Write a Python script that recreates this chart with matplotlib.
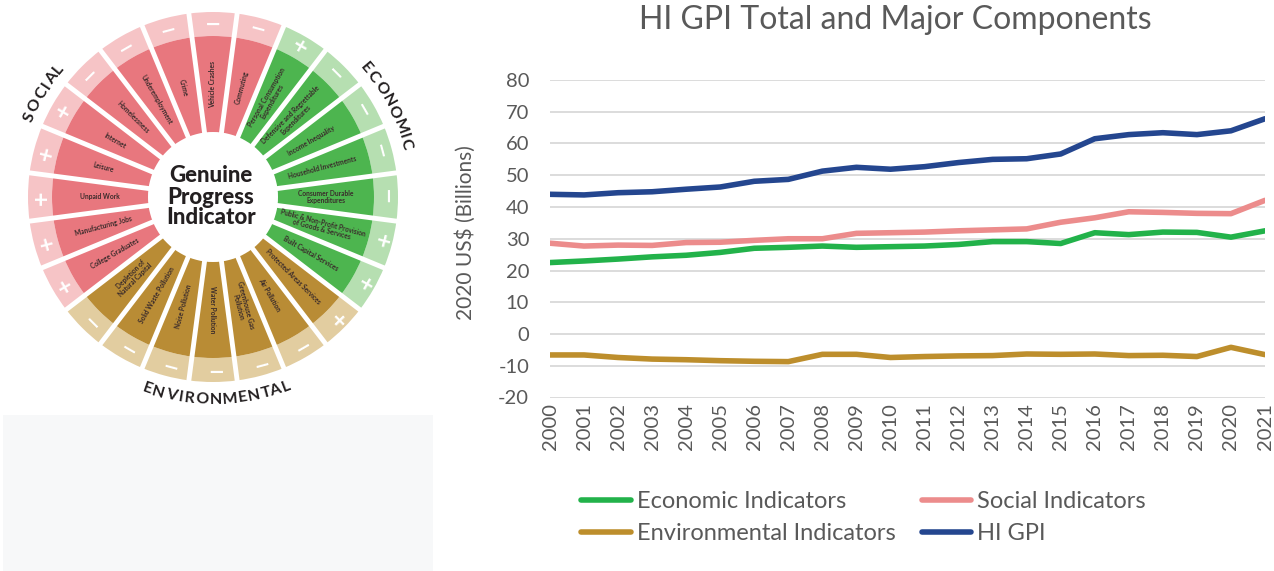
import numpy as np
import matplotlib
matplotlib.use("Agg")
import matplotlib.pyplot as plt
from matplotlib.patches import Wedge, Rectangle
from matplotlib.textpath import TextPath
from matplotlib.font_manager import FontProperties

plt.rcParams["axes.unicode_minus"] = False

# ---- line chart data (2020 US$ billions) ----
years = list(range(2000, 2022))
economic = [22.5, 23.0, 23.6, 24.3, 24.8, 25.7, 27.0, 27.3, 27.7, 27.3, 27.5,
            27.7, 28.2, 29.1, 29.1, 28.5, 31.9, 31.3, 32.1, 32.0, 30.5, 32.5]
social = [28.6, 27.7, 28.0, 27.9, 28.8, 28.9, 29.5, 30.0, 30.0, 31.7, 31.9,
          32.1, 32.5, 32.8, 33.1, 35.2, 36.6, 38.5, 38.3, 38.0, 37.9, 42.1]
environmental = [-6.6, -6.6, -7.4, -7.9, -8.1, -8.4, -8.6, -8.7, -6.4, -6.4, -7.4,
                 -7.1, -6.9, -6.8, -6.3, -6.4, -6.3, -6.8, -6.7, -7.1, -4.2, -6.5]
hi_gpi = [44.0, 43.8, 44.5, 44.8, 45.6, 46.3, 48.1, 48.7, 51.3, 52.5, 51.9,
          52.7, 54.0, 55.0, 55.2, 56.7, 61.5, 62.8, 63.4, 62.8, 64.0, 67.8]
series_names = ["Economic Indicators", "Social Indicators",
                "Environmental Indicators", "HI GPI"]
y_ticks = [-20, -10, 0, 10, 20, 30, 40, 50, 60, 70, 80]

# ---- wheel data: segments counter-clockwise starting at 3 o'clock ----
wheel_labels = ["Consumer Durable\nExpenditures", "Household Investments",
                "Income Inequality", "Defensive and Regrettable\nExpenditures",
                "Personal Consumption\nExpenditures", "Commuting", "Vehicle Crashes",
                "Crime", "Underemployment", "Homelessness", "Internet", "Leisure",
                "Unpaid Work", "Manufacturing Jobs", "College Graduates",
                "Depletion of\nNatural Capital", "Solid Waste Pollution",
                "Noise Pollution", "Water Pollution", "Greenhouse Gas\nPollution",
                "Air Pollution", "Protected Areas Services", "Built Capital Services",
                "Public & Non-Profit Provision\nof Goods & Services"]
wheel_groups = ["eco"] * 5 + ["soc"] * 10 + ["env"] * 7 + ["eco"] * 2
wheel_signs = ["-", "-", "-", "-", "+", "-", "-", "-", "-", "-", "+", "+",
               "+", "+", "+", "-", "-", "-", "-", "-", "-", "+", "+", "+"]
group_titles = ["SOCIAL", "ECONOMIC", "ENVIRONMENTAL"]

group_dark = {"soc": "#e8777e", "eco": "#4db54f", "env": "#b98c35"}
group_light = {"soc": "#f6c4c6", "eco": "#b6dfb1", "env": "#e2cda0"}

fig = plt.figure(figsize=(12.74, 5.71), dpi=100)

# ---------------- wheel ----------------
axw = fig.add_axes([0, 0, 440 / 1274, 1])
axw.set_xlim(0, 440)
axw.set_ylim(0, 571)
axw.axis("off")

# faint faded photo in the lower left
axw.add_patch(Rectangle((3, 0), 430, 156, color="#f7f8f9", lw=0, zorder=0))

cx, cy = 213, 571 - 197
r_in, r_mid, r_out = 65, 161, 185
step = 360 / len(wheel_labels)

for i, (lab, grp, sgn) in enumerate(zip(wheel_labels, wheel_groups, wheel_signs)):
    a = i * step
    axw.add_patch(Wedge((cx, cy), r_out, a - step / 2, a + step / 2,
                        width=r_out - r_mid, facecolor=group_light[grp], lw=0))
    axw.add_patch(Wedge((cx, cy), r_mid, a - step / 2, a + step / 2,
                        width=r_mid - r_in, facecolor=group_dark[grp], lw=0))
    t = np.radians(a)
    an = (a + 180) % 360 - 180
    rot = an if -90 <= an <= 90 else an - 180
    axw.text(cx + 113 * np.cos(t), cy + 113 * np.sin(t), lab, fontsize=4.8,
             family="Lato", weight="bold", color="#3a2b2b", ha="center",
             va="center", rotation=rot, rotation_mode="anchor", linespacing=1.0)
    axw.text(cx + 173 * np.cos(t), cy + 173 * np.sin(t),
             "+" if sgn == "+" else "\u2212", fontsize=14, weight="bold",
             color="white", ha="center", va="center", rotation=a - 90,
             rotation_mode="anchor")

for k in range(len(wheel_labels)):
    t = np.radians(k * step + step / 2)
    axw.plot([cx + 60 * np.cos(t), cx + 190 * np.cos(t)],
             [cy + 60 * np.sin(t), cy + 190 * np.sin(t)], color="white", lw=3.5,
             solid_capstyle="butt")

axw.text(cx - 2, cy, "Genuine\nProgress\nIndicator", fontsize=16, family="Lato",
         weight="black", color="#231f20", ha="center", va="center", linespacing=1.0)

# pairs of letters that sit tighter on the arc
kern = {"TA": -3.5, "AL": -1.0, "IA": -0.5}


def arc_text(word, r, a_center, top, fs=11.5, track=3.0):
    fp = FontProperties(family="Lato", weight="bold", size=fs)
    size_px = fs * 100 / 72
    widths = [TextPath((0, 0), ch, size=size_px, prop=fp).get_extents().width
              for ch in word]
    gaps = [track + kern.get(word[j:j + 2], 0) for j in range(len(word) - 1)]
    total = sum(widths) + sum(gaps)
    s = -total / 2
    for j, (ch, w) in enumerate(zip(word, widths)):
        d = np.degrees((s + w / 2) / r)
        a = a_center - d if top else a_center + d
        t = np.radians(a)
        rot = a - 90 if top else a + 90
        axw.text(cx + r * np.cos(t), cy + r * np.sin(t), ch, fontproperties=fp,
                 color="#231f20", ha="center", va="center", rotation=rot,
                 rotation_mode="anchor")
        s += w + (gaps[j] if j < len(gaps) else 0)


arc_text(group_titles[0], 200, 148.5, True)
arc_text(group_titles[1], 200, 27.5, True)
arc_text(group_titles[2], 203, -89, False)

# ---------------- line chart ----------------
ax = fig.add_axes([550 / 1274, 1 - 397.5 / 571, 715 / 1274, 317.5 / 571])
colors = ["#22b24a", "#ec8c8c", "#bd8e2c", "#24468f"]
handles = []
for vals, name, col in zip([economic, social, environmental, hi_gpi], series_names, colors):
    h, = ax.plot(years, vals, color=col, lw=4, label=name,
                 solid_joinstyle="round", solid_capstyle="round")
    handles.append(h)

ax.set_xlim(2000, 2021)
ax.set_ylim(-20, 80)
ax.set_yticks(y_ticks)
ax.set_xticks(years)
ax.set_xticklabels([str(y) for y in years], rotation=90)
ax.grid(axis="y", color="#d9d9d9", lw=1.3)
ax.set_axisbelow(True)
for s in ax.spines.values():
    s.set_visible(False)
ax.tick_params(axis="both", length=0, colors="#595959")
ax.tick_params(axis="y", labelsize=14.5, pad=15)
ax.tick_params(axis="x", labelsize=14.5, pad=4)
for lab in ax.get_xticklabels() + ax.get_yticklabels():
    lab.set_family("Lato")
ax.set_ylabel("2020 US$ (Billions)", fontsize=15, family="Lato", color="#595959")
ax.yaxis.set_label_coords(-0.103, 0.52)

fig.text(895 / 1274, 1 - 20 / 571, "HI GPI Total and Major Components", fontsize=23,
         family="Lato", color="#595959", ha="center", va="center")

leg = ax.legend([handles[0], handles[2], handles[1], handles[3]],
                [series_names[0], series_names[2], series_names[1], series_names[3]],
                ncol=2, loc="upper left", frameon=False, borderaxespad=0,
                bbox_to_anchor=(572 / 1274, 1 - 482 / 571),
                bbox_transform=fig.transFigure, prop={"family": "Lato", "size": 17},
                handlelength=2.1, handletextpad=0.25, columnspacing=1.1,
                labelspacing=0.44)
for txt in leg.get_texts():
    txt.set_color("#595959")

plt.savefig("out.png", dpi=100)
